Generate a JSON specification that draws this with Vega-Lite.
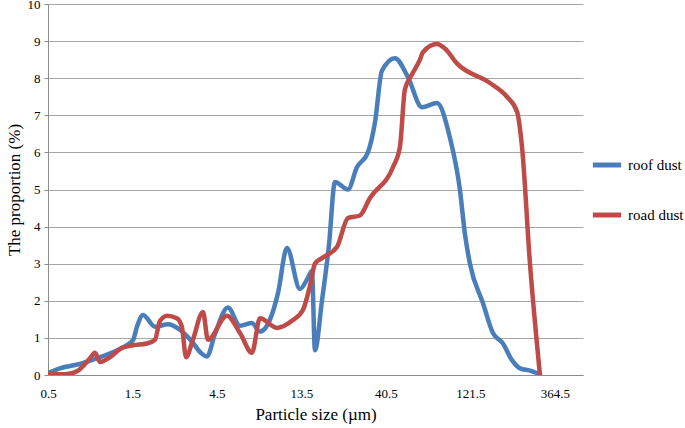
{
  "$schema": "https://vega.github.io/schema/vega-lite/v6.json",
  "width": 535,
  "height": 371,
  "autosize": {"type": "none"},
  "padding": {"left": 48, "top": 4, "right": 102, "bottom": 53},
  "background": "white",
  "config": {"view": {"stroke": null}, "font": "Liberation Serif", "text": {"font": "Liberation Serif"}},
  "data": {"values": [
    {"series": "roof dust", "size": 0.5, "value": 0.05},
    {"series": "roof dust", "size": 0.584, "value": 0.18},
    {"series": "roof dust", "size": 0.758, "value": 0.3},
    {"series": "roof dust", "size": 0.983, "value": 0.48},
    {"series": "roof dust", "size": 1.326, "value": 0.75},
    {"series": "roof dust", "size": 1.51, "value": 0.94},
    {"series": "roof dust", "size": 1.59, "value": 1.3},
    {"series": "roof dust", "size": 1.72, "value": 1.62},
    {"series": "roof dust", "size": 2.01, "value": 1.3},
    {"series": "roof dust", "size": 2.38, "value": 1.37},
    {"series": "roof dust", "size": 2.78, "value": 1.22},
    {"series": "roof dust", "size": 3.25, "value": 0.9},
    {"series": "roof dust", "size": 3.61, "value": 0.62},
    {"series": "roof dust", "size": 3.95, "value": 0.5},
    {"series": "roof dust", "size": 4.38, "value": 1.1},
    {"series": "roof dust", "size": 5.19, "value": 1.82},
    {"series": "roof dust", "size": 6.07, "value": 1.33},
    {"series": "roof dust", "size": 7.09, "value": 1.4},
    {"series": "roof dust", "size": 7.87, "value": 1.17},
    {"series": "roof dust", "size": 9.08, "value": 1.56},
    {"series": "roof dust", "size": 9.94, "value": 2.2},
    {"series": "roof dust", "size": 11.18, "value": 3.42},
    {"series": "roof dust", "size": 13.23, "value": 2.32},
    {"series": "roof dust", "size": 14.69, "value": 2.62},
    {"series": "roof dust", "size": 15.47, "value": 2.8},
    {"series": "roof dust", "size": 16.09, "value": 0.67},
    {"series": "roof dust", "size": 17.62, "value": 2.0},
    {"series": "roof dust", "size": 19.3, "value": 3.5},
    {"series": "roof dust", "size": 20.87, "value": 5.2},
    {"series": "roof dust", "size": 24.7, "value": 5.0},
    {"series": "roof dust", "size": 27.76, "value": 5.6},
    {"series": "roof dust", "size": 32.04, "value": 6.0},
    {"series": "roof dust", "size": 35.09, "value": 6.8},
    {"series": "roof dust", "size": 38.43, "value": 8.2},
    {"series": "roof dust", "size": 45.5, "value": 8.54},
    {"series": "roof dust", "size": 53.89, "value": 8.03},
    {"series": "roof dust", "size": 64.66, "value": 7.22},
    {"series": "roof dust", "size": 78.56, "value": 7.33},
    {"series": "roof dust", "size": 93.0, "value": 6.4},
    {"series": "roof dust", "size": 105.9, "value": 5.0},
    {"series": "roof dust", "size": 113.1, "value": 3.8},
    {"series": "roof dust", "size": 120.7, "value": 3.0},
    {"series": "roof dust", "size": 142.9, "value": 1.94},
    {"series": "roof dust", "size": 162.8, "value": 1.13},
    {"series": "roof dust", "size": 185.4, "value": 0.85},
    {"series": "roof dust", "size": 208.5, "value": 0.4},
    {"series": "roof dust", "size": 231.4, "value": 0.18},
    {"series": "roof dust", "size": 263.5, "value": 0.12},
    {"series": "roof dust", "size": 300.0, "value": 0.02},
    {"series": "road dust", "size": 0.5, "value": 0.03},
    {"series": "road dust", "size": 0.624, "value": 0.02},
    {"series": "road dust", "size": 0.729, "value": 0.1},
    {"series": "road dust", "size": 0.863, "value": 0.45},
    {"series": "road dust", "size": 0.921, "value": 0.6},
    {"series": "road dust", "size": 0.983, "value": 0.35},
    {"series": "road dust", "size": 1.12, "value": 0.48},
    {"series": "road dust", "size": 1.275, "value": 0.7},
    {"series": "road dust", "size": 1.51, "value": 0.8},
    {"series": "road dust", "size": 1.81, "value": 0.85},
    {"series": "road dust", "size": 2.01, "value": 0.95},
    {"series": "road dust", "size": 2.14, "value": 1.45},
    {"series": "road dust", "size": 2.35, "value": 1.6},
    {"series": "road dust", "size": 2.67, "value": 1.53},
    {"series": "road dust", "size": 2.85, "value": 1.3},
    {"series": "road dust", "size": 3.01, "value": 0.48},
    {"series": "road dust", "size": 3.29, "value": 0.95},
    {"series": "road dust", "size": 3.75, "value": 1.7},
    {"series": "road dust", "size": 4.0, "value": 0.95},
    {"series": "road dust", "size": 5.12, "value": 1.6},
    {"series": "road dust", "size": 6.07, "value": 1.13},
    {"series": "road dust", "size": 7.09, "value": 0.6},
    {"series": "road dust", "size": 7.87, "value": 1.53},
    {"series": "road dust", "size": 9.82, "value": 1.27},
    {"series": "road dust", "size": 12.08, "value": 1.48},
    {"series": "road dust", "size": 13.76, "value": 1.75},
    {"series": "road dust", "size": 15.07, "value": 2.4},
    {"series": "road dust", "size": 16.09, "value": 3.0},
    {"series": "road dust", "size": 17.62, "value": 3.15},
    {"series": "road dust", "size": 21.41, "value": 3.45},
    {"series": "road dust", "size": 24.7, "value": 4.23},
    {"series": "road dust", "size": 28.87, "value": 4.3},
    {"series": "road dust", "size": 32.88, "value": 4.77},
    {"series": "road dust", "size": 44.34, "value": 5.6},
    {"series": "road dust", "size": 48.57, "value": 6.15},
    {"series": "road dust", "size": 51.82, "value": 7.7},
    {"series": "road dust", "size": 56.76, "value": 8.1},
    {"series": "road dust", "size": 63.0, "value": 8.5},
    {"series": "road dust", "size": 65.5, "value": 8.7},
    {"series": "road dust", "size": 78.56, "value": 8.92},
    {"series": "road dust", "size": 87.15, "value": 8.8},
    {"series": "road dust", "size": 101.9, "value": 8.4},
    {"series": "road dust", "size": 156.6, "value": 7.87},
    {"series": "road dust", "size": 195.3, "value": 7.5},
    {"series": "road dust", "size": 222.5, "value": 7.1},
    {"series": "road dust", "size": 237.5, "value": 6.15},
    {"series": "road dust", "size": 263.5, "value": 3.0},
    {"series": "road dust", "size": 300.0, "value": 0.0}
  ]},
  "mark": {"type": "line", "interpolate": "monotone", "strokeWidth": 4.5, "clip": true, "strokeCap": "round", "strokeJoin": "round"},
  "encoding": {
    "x": {
      "field": "size",
      "type": "quantitative",
      "scale": {"type": "log", "base": 3, "domain": [0.5, 525], "nice": false},
      "axis": {
        "values": [0.5, 1.5, 4.5, 13.5, 40.5, 121.5, 364.5],
        "format": ".1f",
        "grid": false,
        "ticks": false,
        "domainColor": "#8c8c8c",
        "labelFont": "Liberation Serif",
        "labelFontSize": 13,
        "labelColor": "#000000",
        "labelPadding": 12,
        "labelFlush": false,
        "title": "Particle size (µm)",
        "titleFont": "Liberation Serif",
        "titleFontSize": 17,
        "titleFontWeight": "normal",
        "titleColor": "#000000",
        "titlePadding": 6
      }
    },
    "y": {
      "field": "value",
      "type": "quantitative",
      "scale": {"domain": [0, 10], "nice": false},
      "axis": {
        "values": [0, 1, 2, 3, 4, 5, 6, 7, 8, 9, 10],
        "grid": true,
        "gridColor": "#a6a6a6",
        "gridWidth": 1,
        "domainColor": "#8c8c8c",
        "tickColor": "#8c8c8c",
        "tickSize": 4,
        "labelFont": "Liberation Serif",
        "labelFontSize": 13,
        "labelColor": "#000000",
        "labelPadding": 4,
        "labelFlush": false,
        "title": "The proportion (%)",
        "titleFont": "Liberation Serif",
        "titleFontSize": 17,
        "titleFontWeight": "normal",
        "titleColor": "#000000",
        "titlePadding": 4
      }
    },
    "color": {
      "field": "series",
      "type": "nominal",
      "scale": {"domain": ["roof dust", "road dust"], "range": ["#4a7ebb", "#be4b48"]},
      "legend": {
        "orient": "none",
        "legendX": 542,
        "legendY": 144,
        "title": null,
        "symbolType": "stroke",
        "symbolSize": 800,
        "symbolStrokeWidth": 5,
        "labelFont": "serif",
        "labelFontSize": 15,
        "labelColor": "#000000",
        "labelOffset": 4,
        "rowPadding": 23,
        "padding": 0
      }
    }
  }
}
